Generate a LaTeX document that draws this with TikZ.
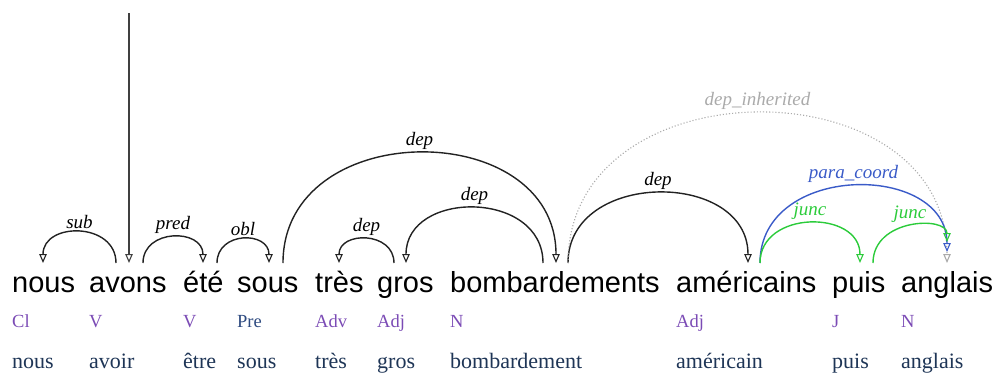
\documentclass[tikz,border=0pt]{standalone}
\usepackage{fontspec}
\setmainfont{Liberation Serif}
\newfontfamily\wordfont{Liberation Sans}
\usetikzlibrary{arrows.meta}
\definecolor{posc}{HTML}{7B4BB5}
\definecolor{prec}{HTML}{2E4A80}
\definecolor{lemc}{HTML}{1E3556}
\definecolor{arcc}{HTML}{222222}
\definecolor{bluec}{HTML}{3A5BC8}
\definecolor{greenc}{HTML}{2BCB3A}
\definecolor{grayc}{HTML}{AAAAAA}
\tikzset{
 wordtok/.style={anchor=base west, inner sep=0pt, font=\wordfont\fontsize{29}{30}\selectfont},
 postag/.style={anchor=base west, inner sep=0pt, text=posc, font=\fontsize{18.5}{20}\selectfont},
 lemmatok/.style={anchor=base west, inner sep=0pt, text=lemc, font=\fontsize{22}{24}\selectfont},
 arrtip/.style={-{Triangle[open,length=9pt,width=7.5pt,line width=1.1pt]}},
 deparc/.style={draw=arcc, line width=1.4pt, arrtip},
 bluearc/.style={draw=bluec, line width=1.4pt, arrtip},
 greenarc/.style={draw=greenc, line width=1.4pt, arrtip},
 grayarc/.style={draw=grayc, line width=1.1pt, dotted, arrtip},
 lbl/.style={font=\itshape\fontsize{19}{21}\selectfont, inner sep=3pt, above, pos=0.5},
 rootline/.style={draw=black!75, line width=1.6pt, arrtip}
}
\begin{document}
\begin{tikzpicture}[x=1pt,y=-1pt]
\useasboundingbox (0,0) rectangle (997,376);
% words
\node[wordtok] (w1) at (12,292) {nous};
\node[wordtok] (w2) at (89,292) {avons};
\node[wordtok] (w3) at (183,292) {été};
\node[wordtok] (w4) at (237,292) {sous};
\node[wordtok] (w5) at (315,292) {très};
\node[wordtok] (w6) at (377,292) {gros};
\node[wordtok] (w7) at (450,292) {bombardements};
\node[wordtok] (w8) at (676,292) {américains};
\node[wordtok] (w9) at (832,292) {puis};
\node[wordtok] (w10) at (901,292) {anglais};
% POS
\node[postag] (p1) at (12,327) {Cl};
\node[postag] (p2) at (89,327) {V};
\node[postag] (p3) at (183,327) {V};
\node[postag,text=prec] (p4) at (237,327) {Pre};
\node[postag] (p5) at (315,327) {Adv};
\node[postag] (p6) at (377,327) {Adj};
\node[postag] (p7) at (450,327) {N};
\node[postag] (p8) at (676,327) {Adj};
\node[postag] (p9) at (832,327) {J};
\node[postag] (p10) at (901,327) {N};
% lemmas
\node[lemmatok] (l1) at (12,368) {nous};
\node[lemmatok] (l2) at (89,368) {avoir};
\node[lemmatok] (l3) at (183,368) {être};
\node[lemmatok] (l4) at (237,368) {sous};
\node[lemmatok] (l5) at (315,368) {très};
\node[lemmatok] (l6) at (377,368) {gros};
\node[lemmatok] (l7) at (450,368) {bombardement};
\node[lemmatok] (l8) at (676,368) {américain};
\node[lemmatok] (l9) at (832,368) {puis};
\node[lemmatok] (l10) at (901,368) {anglais};
% ports
\coordinate (root) at (129,13);
\coordinate (nousIn) at (43,263);
\coordinate (avonsOutA) at (116,263);
\coordinate (avonsIn) at (129,263);
\coordinate (avonsOutB) at (143,263);
\coordinate (eteIn) at (203,263);
\coordinate (eteOut) at (217,263);
\coordinate (sousIn) at (269,263);
\coordinate (sousOut) at (283,263);
\coordinate (tresIn) at (339,263);
\coordinate (grosOut) at (394,263);
\coordinate (grosIn) at (406,263);
\coordinate (bombOutA) at (543,263);
\coordinate (bombIn) at (556,263);
\coordinate (bombOutB) at (568,263);
\coordinate (amerIn) at (748,263);
\coordinate (amerOut) at (760,263);
\coordinate (puisIn) at (860,263);
\coordinate (puisOut) at (873,263);
\coordinate (anglGray) at (947,263);
\coordinate (anglBlue) at (947,252);
\coordinate (anglGreen) at (947,242);
% root
\draw[rootline] (root) -- (avonsIn);
% arcs
\draw[deparc] (avonsOutA) .. controls (116,221.7) and (43,221.7) .. (nousIn) node[lbl] {sub};
\draw[deparc] (avonsOutB) .. controls (143,228.3) and (203,228.3) .. (eteIn) node[lbl] {pred};
\draw[deparc] (eteOut) .. controls (217,231) and (269,231) .. (sousIn) node[lbl] {obl};
\draw[deparc] (sousOut) .. controls (283,116.3) and (556,116.3) .. (bombIn) node[lbl] {dep};
\draw[deparc] (grosOut) .. controls (394,231) and (339,231) .. (tresIn) node[lbl] {dep};
\draw[deparc] (bombOutA) .. controls (543,189.7) and (406,189.7) .. (grosIn) node[lbl] {dep};
\draw[deparc] (bombOutB) .. controls (568,169.7) and (748,169.7) .. (amerIn) node[lbl] {dep};
\draw[grayarc] (bombOutB) .. controls (568,63) and (947,63) .. (anglGray) node[lbl,text=grayc] {dep\_inherited};
\draw[bluearc] (amerOut) .. controls (760,162) and (947,162) .. (anglBlue) node[lbl,text=bluec] {para\_coord};
\draw[greenarc] (amerOut) .. controls (760,209.7) and (860,209.7) .. (puisIn) node[lbl,text=greenc] {junc};
\draw[greenarc] (puisOut) .. controls (873,218) and (947,216) .. (anglGreen) node[lbl,text=greenc] {junc};
\end{tikzpicture}
\end{document}
